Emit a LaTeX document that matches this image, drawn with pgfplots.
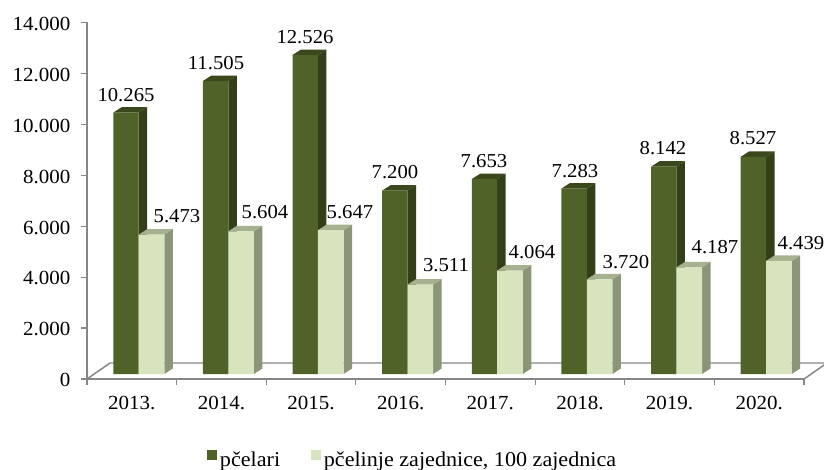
\documentclass[border=0pt]{standalone}
\usepackage{pgfplots}
\pgfplotsset{compat=1.18}
\usepackage{fontspec}
\setmainfont[FakeStretch=1.05]{Liberation Serif}
\definecolor{dk}{HTML}{4F6228}
\definecolor{dkside}{HTML}{333F19}
\definecolor{dktop}{HTML}{3A481C}
\definecolor{lt}{HTML}{D7E4BD}
\definecolor{ltside}{HTML}{8B9578}
\definecolor{lttop}{HTML}{A6B190}
\definecolor{ax}{HTML}{868686}
% side and top faces of a bar: left x, right x, value, side colour, top colour
\newcommand\extrude[5]{%
  \pgfmathsetmacro\xr{#2+0.0948}%
  \pgfmathsetmacro\xl{#1+0.0948}%
  \pgfmathsetmacro\vf{#3+196}%
  \pgfmathsetmacro\vb{#3+412}%
  \edef\temp{\noexpand\addplot[forget plot,fill=#4,draw=none] coordinates {(#2,196)(\xr,412)(\xr,\vb)(#2,\vf)} -- cycle;
  \noexpand\addplot[forget plot,fill=#5,draw=none] coordinates {(#1,\vf)(#2,\vf)(\xr,\vb)(\xl,\vb)} -- cycle;}%
  \temp}
\newcommand\lab[3]{\node[font=\fontsize{14.8pt}{16pt}\selectfont,inner sep=0pt,anchor=center] at (#1*0.75pt,{(469-#2)*0.75pt}) {#3};}
\begin{document}
\begin{tikzpicture}
\path[use as bounding box] (0,0) rectangle (618pt,351.75pt);
\begin{axis}[
  at={(65.25pt,67.5pt)},anchor=origin,
  scale only axis,width=537.75pt,height=267.4pt,
  xmin=0,xmax=8,ymin=0,ymax=14000,clip=false,
  axis x line*=bottom,axis y line*=left,
  axis line style={ax,line width=1.1pt,-},
  xtick={0,...,8},
  x tick label as interval=true,
  xticklabels={2013.,2014.,2015.,2016.,2017.,2018.,2019.,2020.},
  scaled y ticks=false,
  ytick={0,2000,...,14000},
  yticklabels={0,{2.000},{4.000},{6.000},{8.000},{10.000},{12.000},{14.000}},
  tick style={ax,line width=0.9pt},
  major tick length=4.5pt,
  tick align=outside,
  tick label style={font=\fontsize{15pt}{16pt}\selectfont},
  y tick label style={xshift=-4.5pt,yshift=-1pt},
  x tick label style={yshift=-5pt},
  legend style={draw=none,fill=none,at={(0.4545,-0.227)},anchor=center,legend columns=2,font=\fontsize{15.8pt}{16pt}\selectfont,
    /tikz/every even column/.append style={column sep=21pt}},
  legend image code/.code={\fill[#1] (0pt,-3.7pt) rectangle (7.8pt,3.7pt);},
]
\addplot[forget plot,ax,line width=1.1pt] coordinates {(0,0)(0.2566,628)(8.2566,628)(8,0)};
% pčelari
\extrude{0.2934}{0.5768}{10265}{dkside}{dktop}
\extrude{1.2934}{1.5768}{11505}{dkside}{dktop}
\extrude{2.2934}{2.5768}{12526}{dkside}{dktop}
\extrude{3.2934}{3.5768}{7200}{dkside}{dktop}
\extrude{4.2934}{4.5768}{7653}{dkside}{dktop}
\extrude{5.2934}{5.5768}{7283}{dkside}{dktop}
\extrude{6.2934}{6.5768}{8142}{dkside}{dktop}
\extrude{7.2934}{7.5768}{8527}{dkside}{dktop}
\addplot[ybar,bar width=19.05pt,bar shift=0pt,yshift=3.75pt,fill=dk,draw=none] coordinates
 {(0.4351,10265)(1.4351,11505)(2.4351,12526)(3.4351,7200)(4.4351,7653)(5.4351,7283)(6.4351,8142)(7.4351,8527)};
\addlegendentry{pčelari}
% pčelinje zajednice
\extrude{0.5768}{0.8620}{5473}{ltside}{lttop}
\extrude{1.5768}{1.8620}{5604}{ltside}{lttop}
\extrude{2.5768}{2.8620}{5647}{ltside}{lttop}
\extrude{3.5768}{3.8620}{3511}{ltside}{lttop}
\extrude{4.5768}{4.8620}{4064}{ltside}{lttop}
\extrude{5.5768}{5.8620}{3720}{ltside}{lttop}
\extrude{6.5768}{6.8620}{4187}{ltside}{lttop}
\extrude{7.5768}{7.8620}{4439}{ltside}{lttop}
\addplot[ybar,bar width=19.2pt,bar shift=0pt,yshift=3.75pt,fill=lt,draw=none] coordinates
 {(0.7194,5473)(1.7194,5604)(2.7194,5647)(3.7194,3511)(4.7194,4064)(5.7194,3720)(6.7194,4187)(7.7194,4439)};
\addlegendentry{pčelinje zajednice, 100 zajednica}
\end{axis}
\lab{126}{95}{10.265}
\lab{216}{63}{11.505}
\lab{305}{37}{12.526}
\lab{395}{172}{7.200}
\lab{484}{161}{7.653}
\lab{575}{171}{7.283}
\lab{663}{148}{8.142}
\lab{753}{138}{8.527}
\lab{177}{216}{5.473}
\lab{265}{212}{5.604}
\lab{350}{212}{5.647}
\lab{446}{265}{3.511}
\lab{532}{252}{4.064}
\lab{626}{262}{3.720}
\lab{715}{247}{4.187}
\lab{801}{243}{4.439}
\end{tikzpicture}
\end{document}
